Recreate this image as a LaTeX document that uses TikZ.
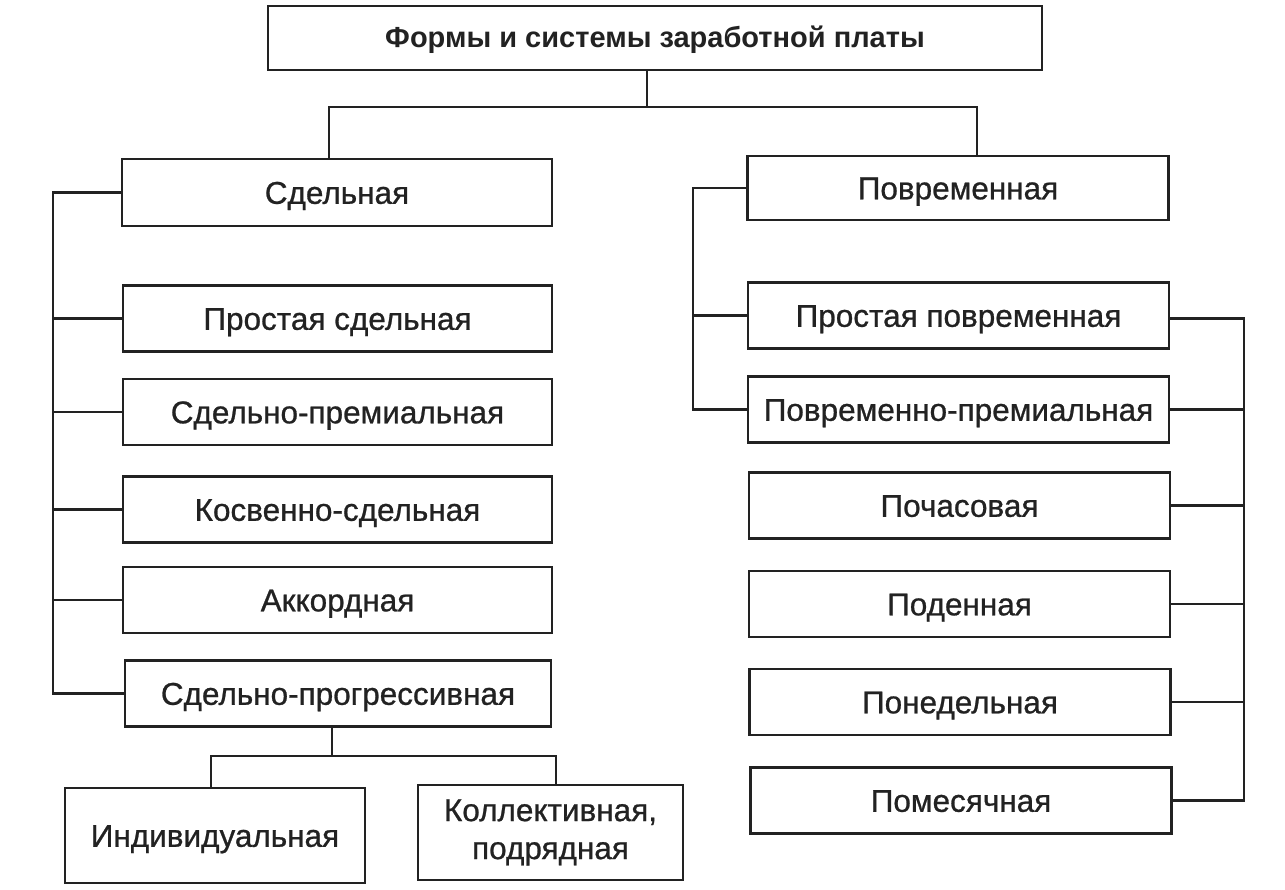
\documentclass[tikz,border=0pt]{standalone}
\usepackage{fontspec}
\setmainfont{Liberation Sans}
\newfontfamily\medfont{Liberation Sans}[FakeBold=0.8]
\definecolor{ink}{HTML}{222222}
\begin{document}
\begin{tikzpicture}[x=1pt,y=-1pt,
  box/.style={draw=ink, line width=2.8pt, inner sep=0pt, text=ink, align=center,
    font=\medfont\fontsize{31.5}{38}\selectfont},
  oneline/.style={text height=22.6pt, text depth=0pt},
  lcol/.style={box, oneline, minimum width=429pt, minimum height=66pt},
  rcol/.style={box, oneline, minimum width=421pt, minimum height=66pt},
  link/.style={draw=ink, line width=2.8pt}]
\fill[white] (0,0) rectangle (1285,890);
\useasboundingbox (0,0) rectangle (1285,890);
% top
\node[box, text height=20pt, text depth=0pt, minimum width=774pt, minimum height=64pt, font=\fontsize{29}{32}\selectfont\bfseries] (top) at (655,38) {Формы и системы заработной платы};
% left column
\node[lcol, minimum width=430pt, minimum height=67pt] (sd) at (337,192.5) {Сдельная};
\node[lcol] (ps) at (337.5,318.5) {Простая сдельная};
\node[lcol] (spr) at (337.5,412) {Сдельно-премиальная};
\node[lcol] (ks) at (337.5,509.5) {Косвенно-сдельная};
\node[lcol] (ak) at (337.5,600) {Аккордная};
\node[lcol, minimum width=426pt] (spg) at (338,693.5) {Сдельно-прогрессивная};
% right column
\node[rcol, minimum height=64pt] (pv) at (958,188) {Повременная};
\node[rcol] (ppv) at (958.5,315.5) {Простая повременная};
\node[rcol] (ppr) at (958.5,409.5) {Повременно-премиальная};
\node[rcol] (pch) at (959.5,505.5) {Почасовая};
\node[rcol] (pd) at (959.5,604) {Поденная};
\node[rcol] (pn) at (960,702) {Понедельная};
\node[rcol] (pm) at (961,800.5) {Помесячная};
% bottom
\node[box, oneline, minimum width=300pt, minimum height=95pt] (ind) at (215,835.5) {Индивидуальная};
\node[box, minimum width=265pt, minimum height=95pt] (kol) at (550.5,832.5) {Коллективная,\\подрядная};
% buses
\coordinate (hub) at (647,107);
\coordinate (lb) at (53,0);
\coordinate (rb) at (693,0);
\coordinate (eb) at (1244,0);
\coordinate (hub2) at (332,756);
% top connectors
\draw[link] ([xshift=-8pt]top.south) -- (hub);
\draw[link] ([xshift=-8pt]sd.north) |- (hub) -| ([xshift=19pt]pv.north);
% left group
\draw[link] (sd.west) -- (sd.west -| lb) |- (spg.west);
\foreach \n in {ps,spr,ks,ak} \draw[link] (\n.west) -- (\n.west -| lb);
% right group, left bus
\draw[link] (pv.west) -- (pv.west -| rb) |- (ppr.west);
\draw[link] (ppv.west) -- (ppv.west -| rb);
% right group, right bus
\draw[link] ([yshift=-3pt]ppv.east) -- ([yshift=-3pt]ppv.east -| eb) |- (pm.east);
\foreach \n in {ppr,pch,pd,pn} \draw[link] (\n.east) -- (\n.east -| eb);
% bottom
\draw[link] (spg.south -| hub2) -- (hub2);
\draw[link] ([xshift=-4pt]ind.north) |- (hub2) -| ([xshift=5.5pt]kol.north);
\end{tikzpicture}
\end{document}
